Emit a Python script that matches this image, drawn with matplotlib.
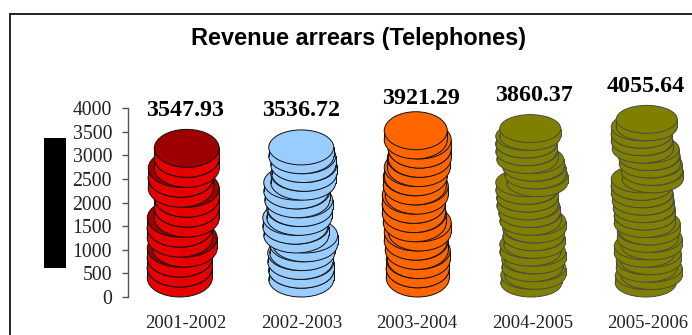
import matplotlib
matplotlib.use("Agg")
import matplotlib.pyplot as plt
from matplotlib.patches import Ellipse, Rectangle

### Revenue per year
years = ["2001-2002", "2002-2003", "2003-2004", "2004-2005", "2005-2006"]
revenue = [3547.93, 3536.72, 3921.29, 3860.37, 4055.64]
y_ticks = [0, 500, 1000, 1500, 2000, 2500, 3000, 3500, 4000]

### Sideways wobble of each coin in a stack, bottom to top, in pixels
wobble = [
    [-6, -6, -6, -1, -6, -6, 1, 1, 1, -5, -5, 1, 1],
    [0, 0, -1, 1, 4, -5, -6, -2, -1, -4, -5, 2, 3, 2, 0],
    [1, 1, 2, 0, -1, 3, -2, -3, -3, 0, -2, -1, 2, 3, 3, -1],
    [-1, 3, 0, 3, -2, 2, 1, 3, -2, -3, -5, -5, -6, 5, 3, 1, -5, -6, -6, -2],
    [-2, 4, -1, 3, -3, 4, 0, 2, -3, -3, -4, -5, -6, -6, 5, 4, 2, 1, -5, -6, -6, -1],
]

### Coin looks: top colour, side colour, outline, width and ellipse height in pixels
top_colors = ["#9c0000", "#99ccff", "#ff6600", "#808000", "#808000"]
side_colors = ["#e60000", "#99ccff", "#ff6600", "#808000", "#808000"]
edge_colors = ["#111111", "#111111", "#111111", "#4a4a40", "#4a4a40"]
coin_w_px = [65, 65, 63, 61, 61]
coin_h_px = [38, 35, 38, 28, 28]

### Value labels: nudges from their default spot, in pixels
label_dx = [-1, 0, 4, 2, -2]
label_dy = [0, 0, -6, 0, 0]

W, H = 692, 335
AX_LEFT, AX_BOTTOM, AX_TOP = 128, 297, 108
STEP = 115.5  # pixels between two categories
Y_MAX = 4000
DATA_PER_PX = Y_MAX / (AX_BOTTOM - AX_TOP)
PT = 72 / 100  # points per pixel at dpi 100

plt.rcParams["font.family"] = ["Liberation Serif", "DejaVu Serif"]

fig = plt.figure(figsize=(W / 100, H / 100), dpi=100)
ax = fig.add_axes([AX_LEFT / W, (H - AX_BOTTOM) / H, (W - AX_LEFT) / W, (AX_BOTTOM - AX_TOP) / H])
ax.set_xlim(-0.5, -0.5 + (W - AX_LEFT) / STEP)
ax.set_ylim(0, Y_MAX)


def draw_coin(ax, x, base, w, e, t, top, side, edge, z):
    # one coin: lower rim, body, then the top face
    ax.add_patch(Ellipse((x, base + e / 2), w, e, fc=side, ec=edge, lw=0.7, zorder=z, clip_on=False))
    ax.add_patch(Rectangle((x - w / 2, base + e / 2), w, t, fc=side, ec="none", zorder=z, clip_on=False))
    ax.plot([x - w / 2, x - w / 2], [base + e / 2, base + e / 2 + t], color=edge, lw=0.7, zorder=z, clip_on=False)
    ax.plot([x + w / 2, x + w / 2], [base + e / 2, base + e / 2 + t], color=edge, lw=0.7, zorder=z, clip_on=False)
    ax.add_patch(Ellipse((x, base + e / 2 + t), w, e, fc=top, ec=edge, lw=0.7, zorder=z, clip_on=False))


for i, value in enumerate(revenue):
    w = coin_w_px[i] / STEP
    e = coin_h_px[i] * DATA_PER_PX
    n = len(wobble[i])
    t = (value - e) / n  # stack height comes from the value
    for k, shift in enumerate(wobble[i]):
        draw_coin(ax, i + shift / STEP, k * t, w, e, t,
                  top_colors[i], side_colors[i], edge_colors[i], 3 + k * 0.01)
    ax.annotate(f"{value:.2f}", (i, value),
                xytext=(label_dx[i] * PT, 6.2 + label_dy[i] * PT), textcoords="offset points",
                ha="center", va="bottom", fontsize=17.3, fontweight="bold", color="black",
                annotation_clip=False, zorder=10)

ax.set_xticks([])
ax.set_yticks(y_ticks)
ax.tick_params(axis="y", length=4.5, width=1, color="#555555", labelsize=14.2, labelcolor="#222222", pad=7)
for side in ["top", "right", "bottom"]:
    ax.spines[side].set_visible(False)
ax.spines["left"].set_color("#555555")
ax.spines["left"].set_linewidth(1)
ax.patch.set_visible(False)

for i, year in enumerate(years):
    ax.text(i, (AX_BOTTOM - 323) * DATA_PER_PX, year, ha="center", va="center",
            fontsize=13.4, color="#222222", clip_on=False)

fig.text(358 / W, 1 - 38 / H, "Revenue arrears (Telephones)", ha="center", va="center",
         family="Liberation Sans", fontweight="bold", fontsize=16.9, color="black")

# outer chart frame runs off the right and bottom edges
fig.add_artist(Rectangle((10 / W, -0.1), 1, 1.1 - 14 / H, transform=fig.transFigure,
                         fc="none", ec="#222222", lw=1.4))
# solid block left of the axis
fig.add_artist(Rectangle((44 / W, 1 - 268 / H), 22 / W, 130 / H, transform=fig.transFigure,
                         fc="black", ec="none"))

fig.savefig("out.png", dpi=100)
